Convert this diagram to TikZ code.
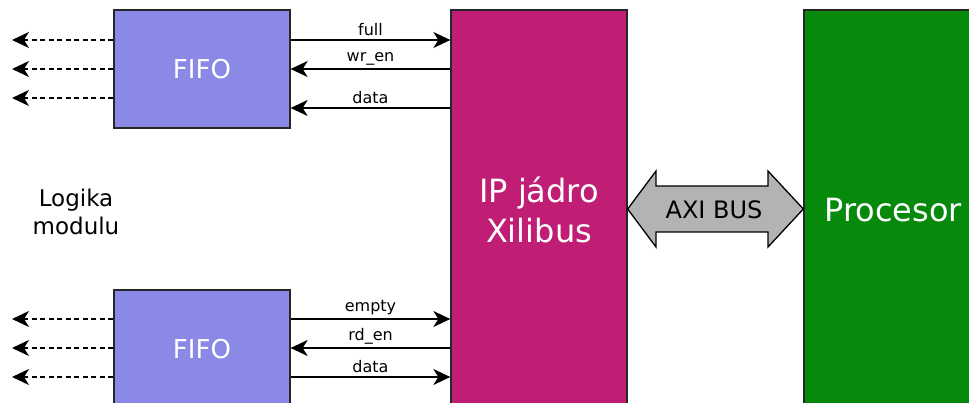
\documentclass[tikz,border=0pt]{standalone}
\usepackage{fontspec}
\setmainfont{DejaVu Sans}
\usetikzlibrary{arrows.meta}

\definecolor{fifoblue}{RGB}{138,138,230}
\definecolor{ipmagenta}{RGB}{192,30,116}
\definecolor{cpugreen}{RGB}{7,138,12}
\definecolor{busgray}{RGB}{179,179,179}

\tikzset{
  blok/.style={draw=black!85,line width=1.3pt,text=white,align=center,inner sep=0pt},
  sig/.style={line width=1.8pt,-{Stealth[length=17pt,width=16pt,inset=5pt]}},
  vystup/.style={sig,dash pattern=on 5pt off 3.5pt},
  lbl/.style={above,inner sep=3pt,font=\fontsize{16}{18}\selectfont}
}

\begin{document}
\begin{tikzpicture}[x=1pt,y=-1pt]
\useasboundingbox (0,0) rectangle (969,403);

% bloky
\node[blok,fill=fifoblue,minimum width=176pt,minimum height=118pt,font=\fontsize{26}{30}\selectfont] (fifoA) at (202,69) {FIFO};
\node[blok,fill=fifoblue,minimum width=176pt,minimum height=118pt,font=\fontsize{26}{30}\selectfont] (fifoB) at (202,349) {FIFO};
\node[blok,fill=ipmagenta,minimum width=176pt,minimum height=400pt,font=\fontsize{32}{40}\selectfont] (ip) at (539,210) {IP jádro\\Xilibus};
\node[blok,fill=cpugreen,minimum width=178pt,minimum height=400pt,font=\fontsize{32}{38}\selectfont] (cpu) at (893,210) {Procesor};
\node[align=center,font=\fontsize{23}{28}\selectfont] (logika) at (76,212) {Logika\\modulu};

% horni FIFO
\draw[sig] (fifoA.east |- 0,40) -- node[lbl]{full} (ip.west |- 0,40);
\draw[sig] (ip.west |- 0,69) -- node[lbl]{wr\_en} (fifoA.east |- 0,69);
\draw[sig] (ip.west |- 0,108) -- node[lbl]{data} (fifoA.east |- 0,108);

% dolni FIFO
\draw[sig] (fifoB.east |- 0,319) -- node[lbl]{empty} (ip.west |- 0,319);
\draw[sig] (ip.west |- 0,348) -- node[lbl]{rd\_en} (fifoB.east |- 0,348);
\draw[sig] (fifoB.east |- 0,377) -- node[lbl]{data} (ip.west |- 0,377);

% vystupy do logiky
\foreach \y in {40,69,98}
  \draw[vystup] (fifoA.west |- 0,\y) -- (12,\y);
\foreach \y in {319,348,377}
  \draw[vystup] (fifoB.west |- 0,\y) -- (12,\y);

% AXI sbernice
\draw[fill=busgray,line width=1.3pt,line join=miter] (ip.east |- 0,209) -- (656,171) -- (656,186) -- (768,186) -- (768,171)
  -- (cpu.west |- 0,209) -- (768,247) -- (768,232) -- (656,232) -- (656,247) -- cycle;
\node[font=\fontsize{24}{28}\selectfont] (axi) at (714,210) {AXI BUS};
\end{tikzpicture}
\end{document}
